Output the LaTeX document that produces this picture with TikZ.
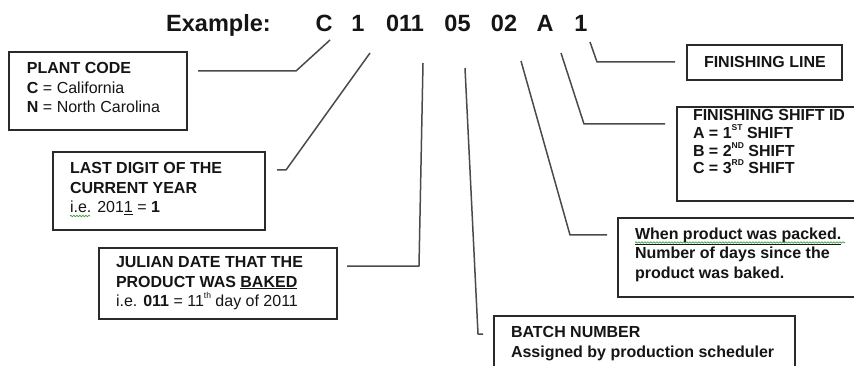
\documentclass[tikz,border=0pt]{standalone}
\usepackage{fontspec}
\setmainfont{Liberation Sans}
\usetikzlibrary{decorations.pathmorphing}
\definecolor{txt}{HTML}{151515}
\definecolor{lin}{HTML}{4a4a4a}
\definecolor{boxc}{HTML}{2a2a2a}
\definecolor{sqc}{HTML}{3aa03a}
\newcommand{\mysup}[1]{\raisebox{0.5em}{\fontsize{8.5}{9}\selectfont #1}}
\begin{document}
\begin{tikzpicture}[x=1pt,y=-1pt,
  box/.style={draw=boxc, line width=1.3pt, anchor=north west, inner sep=0pt, outer sep=0pt},
  body/.style={anchor=north west, inner sep=0pt, outer sep=0pt, align=left, text=txt, font=\fontsize{16}{19.5}\selectfont},
  tight/.style={font=\fontsize{16}{17.7}\selectfont},
  conn/.style={draw=lin, line width=1.5pt, line join=round},
  titlef/.style={anchor=base, inner sep=0pt, text=txt, font=\fontsize{23.5}{28}\selectfont\bfseries},
  squiggle/.style={draw=sqc, line width=0.7pt, decorate, decoration={snake, amplitude=0.7pt, segment length=3pt}}
]
\useasboundingbox (0,0) rectangle (854,366);
\clip (0,0) rectangle (854,366);
\fill[white] (0,0) rectangle (854,366);

% title
\node[titlef, anchor=base west] (ex) at (166,32) {Example:};
\node[titlef] (tC) at (324,32) {C};
\node[titlef] (t1) at (358,32) {1};
\node[titlef] (t011) at (405,32) {011};
\node[titlef] (t05) at (457.5,32) {05};
\node[titlef] (t02) at (504,32) {02};
\node[titlef] (tA) at (545,32) {A};
\node[titlef] (tL) at (581,32) {1};

% boxes
\node[box, minimum width=178pt, minimum height=78pt] (pc) at (9,52) {};
\node[box, minimum width=212pt, minimum height=78pt] (ld) at (53,152) {};
\node[box, minimum width=238pt, minimum height=71pt] (jd) at (99,248) {};
\node[box, minimum width=301pt, minimum height=70pt] (bn) at (494,316) {};
\node[box, minimum width=155pt, minimum height=35pt] (fl) at (687,45) {};
\node[box, minimum width=190pt, minimum height=94pt] (fs) at (677,107) {};
\node[box, minimum width=250pt, minimum height=79pt] (pk) at (618,218) {};

% texts
\node[body] (pcT) at (27,62.5) {\textbf{PLANT CODE}\\\textbf{C} = California\\\textbf{N} = North Carolina};
\node[body] (ldT) at (70,162.5) {\textbf{LAST DIGIT OF THE}\\\textbf{CURRENT YEAR}\\i.e. 201\underline{1} = \textbf{1}};
\node[body] (jdT) at (116,256.5) {\textbf{JULIAN DATE THAT THE}\\\textbf{PRODUCT WAS \underline{BAKED}}\\i.e. \textbf{011} = 11\mysup{th} day of 2011};
\node[body] (bnT) at (511,326.5) {\textbf{BATCH NUMBER}\\\textbf{Assigned by production scheduler}};
\node[body] (flT) at (704,56.5) {\textbf{FINISHING LINE}};
\node[body, tight] (fsT) at (693,109.5) {\textbf{FINISHING SHIFT ID}\\\textbf{A = 1\mysup{ST} SHIFT}\\\textbf{B = 2\mysup{ND} SHIFT}\\\textbf{C = 3\mysup{RD} SHIFT}};
\node[body] (pkT) at (635,227.5) {\textbf{\underline{When product was packed.}}\\\textbf{Number of days since the}\\\textbf{product was baked.}};

% spell-check squiggles
\coordinate (sq1a) at (70,216);
\coordinate (sq1b) at (90,216);
\draw[squiggle] (sq1a) -- (sq1b);
\coordinate (sq2a) at (635,242.5);
\coordinate (sq2b) at (845,242.5);
\draw[squiggle] (sq2a) -- (sq2b);

% connector points
\coordinate (aC0) at (330,40);  \coordinate (aC1) at (296,71);  \coordinate (aC2) at (198,71);
\coordinate (a10) at (370,53);  \coordinate (a11) at (286,170); \coordinate (a12) at (277,170);
\coordinate (aJ0) at (423,63);  \coordinate (aJ1) at (419,266); \coordinate (aJ2) at (347,266);
\coordinate (aB0) at (465,68);  \coordinate (aB1) at (478,334); \coordinate (aB2) at (483,334);
\coordinate (aP0) at (521,61);  \coordinate (aP1) at (570,235); \coordinate (aP2) at (607,235);
\coordinate (aS0) at (561,53);  \coordinate (aS1) at (584,124); \coordinate (aS2) at (665,124);
\coordinate (aL0) at (590,42);  \coordinate (aL1) at (597,62);  \coordinate (aL2) at (675,62);

\draw[conn] (aC0) -- (aC1) -- (aC2);
\draw[conn] (a10) -- (a11) -- (a12);
\draw[conn] (aJ0) -- (aJ1) -- (aJ2);
\draw[conn] (aB0) -- (aB1) -- (aB2);
\draw[conn] (aP0) -- (aP1) -- (aP2);
\draw[conn] (aS0) -- (aS1) -- (aS2);
\draw[conn] (aL0) -- (aL1) -- (aL2);
\end{tikzpicture}
\end{document}
